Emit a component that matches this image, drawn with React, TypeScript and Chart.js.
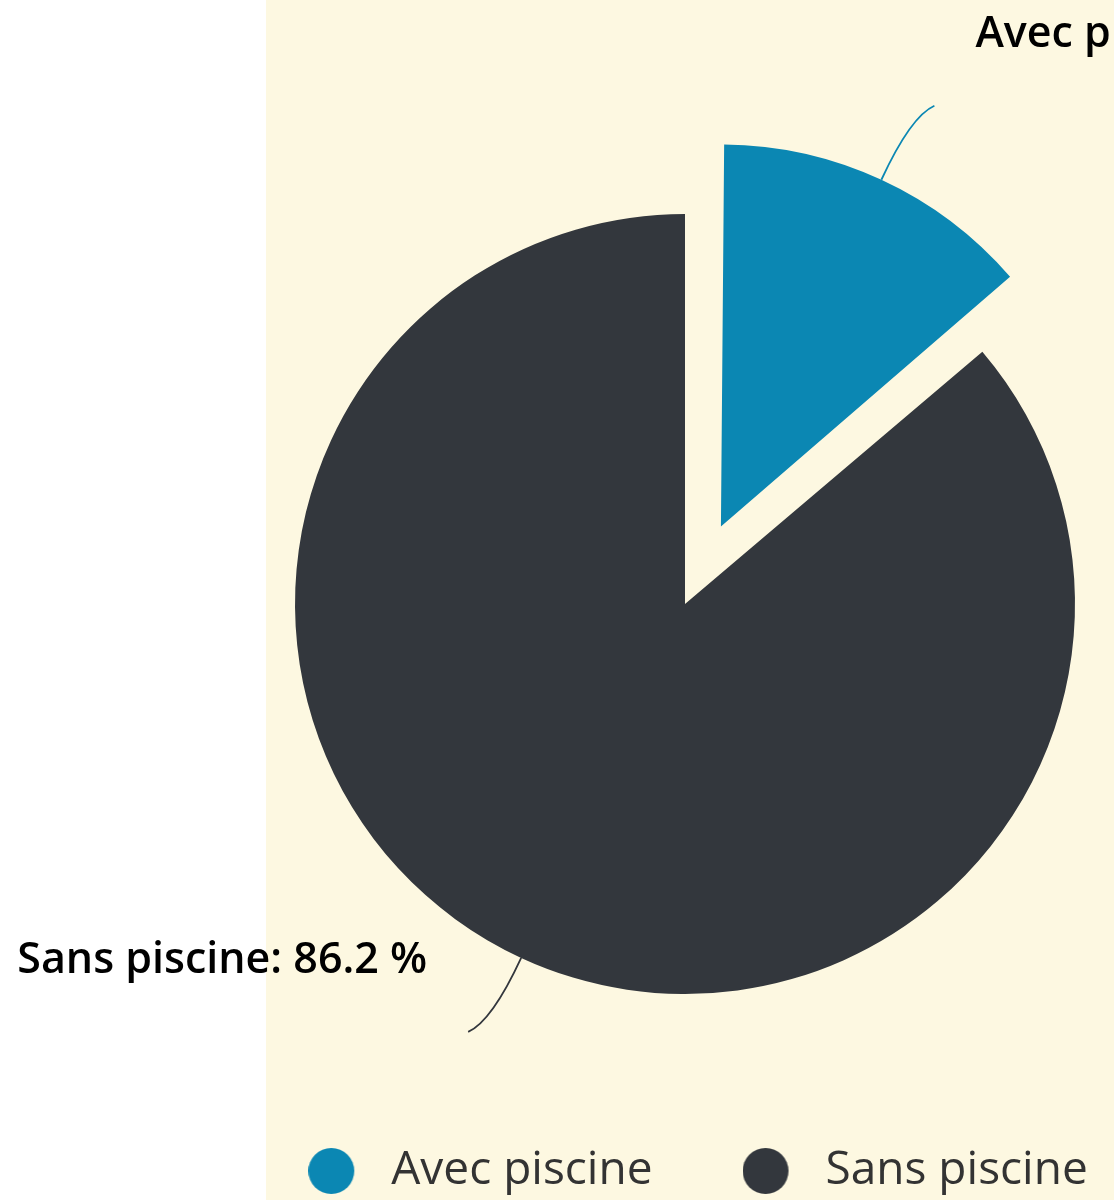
import React, { useEffect, useRef } from 'react';
import { Chart, registerables } from 'chart.js';

Chart.register(...registerables);

const categories = ['Avec piscine', 'Sans piscine'];
const shares = [13.8, 86.2];

const SLICE_COLORS = ['#0b87b3', '#33373d'];
const CREAM = '#fdf8e1';
const CANVAS_W = 1370;
const CANVAS_H = 1204;
const PIE_RADIUS = 390;
const SLICED_RADIUS = 382;
const SLICE_OFFSET = 342; // chart.js translates by offset/4
const LEGEND_FONT = 46;
const LEGEND_SHIFT = 13;
const DOT = 46;
const DOT_BOX = 60;
const FONT_FAMILY = '"Open Sans", Lato, sans-serif';

function makeDot(color: string) {
  const c = document.createElement('canvas');
  c.width = DOT_BOX;
  c.height = DOT;
  const g = c.getContext('2d')!;
  g.fillStyle = color;
  g.beginPath();
  g.arc(DOT / 2, DOT / 2, DOT / 2, 0, Math.PI * 2);
  g.fill();
  return c;
}

const slicedRadiusPlugin = {
  id: 'slicedRadius',
  afterDatasetsUpdate(chart: any) {
    const meta = chart.getDatasetMeta(0);
    meta.data.forEach((el: any) => {
      const off = (el.options.offset || 0) / 4;
      if (off > 0) {
        const circ = el.endAngle - el.startAngle;
        const fix = 1 - Math.sin(Math.min(Math.PI, circ));
        el.outerRadius = SLICED_RADIUS - off * fix;
      }
    });
  },
};

const legendShiftPlugin = {
  id: 'legendShift',
  afterLayout(chart: any) {
    if (chart.legend) {
      chart.legend.left += LEGEND_SHIFT;
      chart.legend.right += LEGEND_SHIFT;
    }
  },
};

const connectorLabelPlugin = {
  id: 'connectorLabels',
  afterDatasetsDraw(chart: any) {
    const ctx = chart.ctx;
    const meta = chart.getDatasetMeta(0);
    meta.data.forEach((el: any, i: number) => {
      const { x, y, startAngle, endAngle, outerRadius } = el.getProps(
        ['x', 'y', 'startAngle', 'endAngle', 'outerRadius'],
        true
      );
      const off = (el.options.offset || 0) / 4;
      const mid = (startAngle + endAngle) / 2;
      const circ = endAngle - startAngle;
      const fix = 1 - Math.sin(Math.min(Math.PI, circ));
      const r = outerRadius + off * fix;
      const cx = x + Math.cos(mid) * off;
      const cy = y + Math.sin(mid) * off;
      const p0x = cx + Math.cos(mid) * r;
      const p0y = cy + Math.sin(mid) * r;
      const sx = Math.cos(mid) >= 0 ? 1 : -1;
      const sy = Math.sin(mid) >= 0 ? 1 : -1;
      const c1x = p0x + Math.cos(mid) * 70;
      const c1y = p0y + Math.sin(mid) * 70;
      const ex = p0x + sx * 53;
      const ey = p0y + sy * 74;
      ctx.save();
      ctx.strokeStyle = SLICE_COLORS[i];
      ctx.lineWidth = 1.8;
      ctx.beginPath();
      ctx.moveTo(p0x, p0y);
      ctx.quadraticCurveTo(c1x, c1y, ex, ey);
      ctx.stroke();
      ctx.fillStyle = '#000000';
      ctx.font = `600 43px ${FONT_FAMILY}`;
      ctx.textBaseline = 'middle';
      ctx.textAlign = sx > 0 ? 'left' : 'right';
      const text = `${chart.data.labels[i]}: ${chart.data.datasets[0].data[i].toFixed(1)} %`;
      ctx.fillText(text, ex + sx * 41, ey - 71);
      ctx.restore();
    });
  },
};

export default function App() {
  const ref = useRef<HTMLCanvasElement | null>(null);

  useEffect(() => {
    if (!ref.current) return;
    const chart = new Chart(ref.current, {
      type: 'pie',
      data: {
        labels: categories,
        datasets: [
          {
            data: shares,
            backgroundColor: SLICE_COLORS,
            borderWidth: 0,
            offset: [SLICE_OFFSET, 0],
            hoverOffset: 0,
          },
        ],
      },
      options: {
        responsive: false,
        animation: false,
        devicePixelRatio: 1,
        radius: PIE_RADIUS,
        layout: { padding: { top: 150, bottom: 0, left: 0, right: 0 } },
        plugins: {
          tooltip: { enabled: false },
          legend: {
            position: 'bottom',
            labels: {
              usePointStyle: true,
              pointStyleWidth: DOT_BOX,
              boxHeight: DOT,
              padding: 90,
              font: { family: FONT_FAMILY, size: LEGEND_FONT },
              color: '#333333',
              generateLabels: () =>
                categories.map((c, i) => ({
                  text: c,
                  fillStyle: SLICE_COLORS[i],
                  strokeStyle: SLICE_COLORS[i],
                  lineWidth: 0,
                  pointStyle: makeDot(SLICE_COLORS[i]),
                  hidden: false,
                  index: i,
                  fontColor: '#333333',
                })),
            },
          },
        },
      } as any,
      plugins: [slicedRadiusPlugin, legendShiftPlugin, connectorLabelPlugin],
    });
    return () => chart.destroy();
  }, []);

  return (
    <div
      style={{
        position: 'absolute',
        left: 0,
        top: 0,
        width: 1114,
        height: 1200,
        overflow: 'hidden',
        background: '#ffffff',
      }}
    >
      <div
        style={{
          position: 'absolute',
          left: 266,
          top: 0,
          right: 0,
          bottom: 0,
          background: CREAM,
        }}
      />
      <canvas
        ref={ref}
        width={CANVAS_W}
        height={CANVAS_H}
        style={{ position: 'absolute', left: 0, top: 0, width: CANVAS_W, height: CANVAS_H }}
      />
    </div>
  );
}
